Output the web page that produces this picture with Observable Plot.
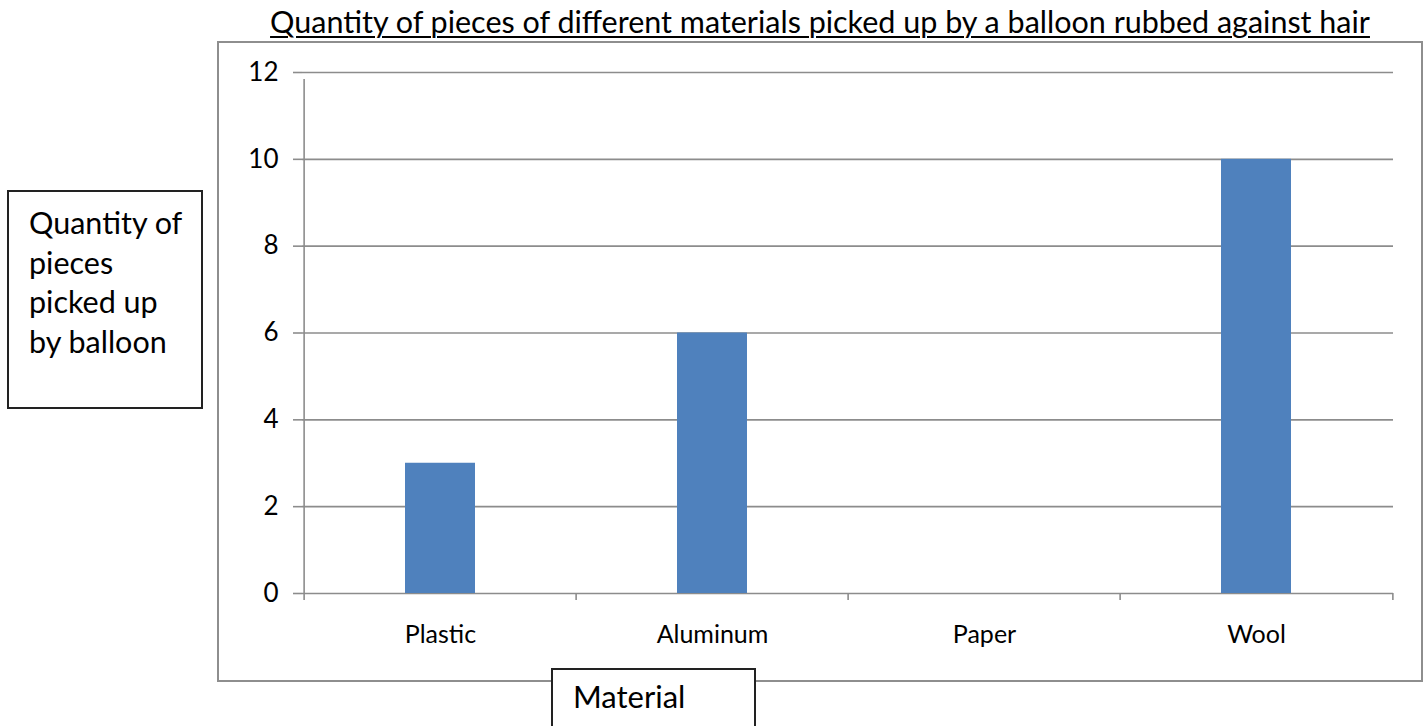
<!DOCTYPE html>
<html><head><meta charset="utf-8">
<script src="https://cdn.jsdelivr.net/npm/d3@7"></script>
<script src="https://cdn.jsdelivr.net/npm/@observablehq/plot@0.6"></script>
<style>
body{margin:0;background:#fff;}
#wrap{position:relative;width:1427px;height:726px;overflow:hidden;font-family:Lato,"Open Sans",sans-serif;color:#000;}
#wrap svg{position:absolute;left:0;top:0;}
#frame{position:absolute;left:217px;top:41px;width:1206px;height:641px;border:2px solid #8e8e8e;box-sizing:border-box;}
#title{position:absolute;left:820px;top:2px;transform:translateX(-50%);white-space:nowrap;font-size:30.5px;line-height:38px;text-decoration:underline;text-underline-offset:3px;text-decoration-thickness:2px;}
#ylab{position:absolute;left:7px;top:190px;width:196px;height:219px;border:2px solid #222;box-sizing:border-box;background:#fff;padding:11px 0 0 20px;font-size:30.5px;line-height:39.5px;}
#xlab{position:absolute;left:551px;top:668px;width:205px;height:60px;border:2px solid #222;box-sizing:border-box;background:#fff;padding:6px 0 0 20px;font-size:31px;line-height:40px;}
</style></head>
<body>
<div id="wrap">
  <div id="frame"></div>
  <div id="title"></div>
  <div id="ylab"></div>
  <div id="xlab"></div>
</div>
<script>
const titleText = "Quantity of pieces of different materials picked up by a balloon rubbed against hair";
const yLabelLines = ["Quantity of", "pieces", "picked up", "by balloon"];
const xLabelText = "Material";
const materials = ["Plastic", "Aluminum", "Paper", "Wool"];
const pieces = [3, 6, 0, 10];
const yTicks = [0, 2, 4, 6, 8, 10, 12];

const data = materials.map((m, i) => ({material: m, pieces: pieces[i]}));

const W = 1427, H = 726, mL = 302, mR = 34, mT = 72, mB = 133;
const step = (W - mL - mR) / materials.length;
const gray = "#8c8c8c";

const chart = Plot.plot({
  width: W, height: H,
  marginLeft: mL, marginRight: mR, marginTop: mT, marginBottom: mB,
  style: {fontFamily: "Lato, 'Open Sans', sans-serif", fontSize: "25px", color: "#000", background: "transparent", overflow: "visible"},
  x: {domain: materials, paddingInner: 0.743, paddingOuter: 0.3715, label: null},
  y: {domain: [0, 12], label: null},
  marks: [
    Plot.ruleY(yTicks, {stroke: gray, strokeWidth: 1.6}),
    Plot.barY(data, {x: "material", y: "pieces", fill: "#4f81bd"}),
    Plot.ruleX([materials[0]], {x: d => d, y1: 0, y2: 12, dx: -step / 2, insetBottom: -7, stroke: gray, strokeWidth: 1.6}),
    Plot.ruleX(materials, {x: d => d, y1: 0, y2: 0, dx: -step / 2, insetBottom: -7, stroke: gray, strokeWidth: 1.6}),
    Plot.ruleX([materials[materials.length - 1]], {x: d => d, y1: 0, y2: 0, dx: step / 2, insetBottom: -7, stroke: gray, strokeWidth: 1.6}),
    Plot.axisY({ticks: yTicks, tickSize: 9, tickPadding: 15, stroke: gray, strokeWidth: 1.6, fill: "#000", fontSize: 26, label: null}),
    Plot.axisX({tickSize: 0, tickPadding: 32, fill: "#000", fontSize: 25, label: null})
  ]
});

const wrap = document.getElementById("wrap");
wrap.insertBefore(chart, wrap.firstChild);
document.getElementById("title").textContent = titleText;
document.getElementById("ylab").innerHTML = yLabelLines.map(s => `<div>${s}</div>`).join("");
document.getElementById("xlab").textContent = xLabelText;
</script>
</body></html>
